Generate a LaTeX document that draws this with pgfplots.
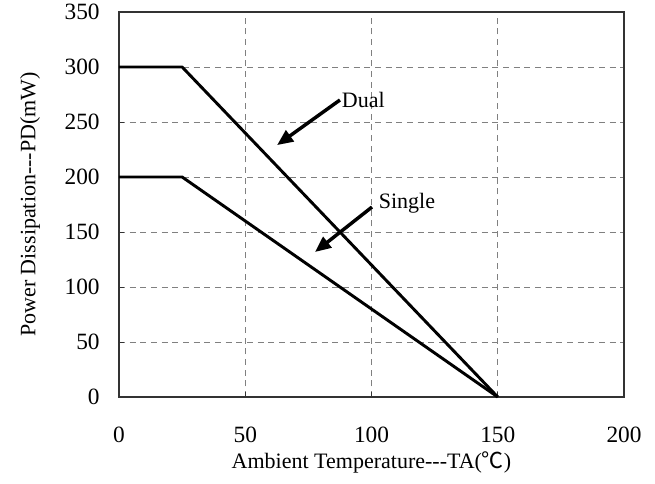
\documentclass[border=0pt]{standalone}
\usepackage{fontspec}
\setmainfont{Liberation Serif}
\newfontfamily\cjk{Noto Sans CJK TC}
\usepackage{pgfplots}
\pgfplotsset{compat=1.18}
\usetikzlibrary{arrows.meta}

\begin{document}
\begin{tikzpicture}
\useasboundingbox (-89.25pt,-65.25pt) rectangle (402pt,297.75pt);
\begin{axis}[
    scale only axis,
    width=378.75pt, height=288.75pt,
    xmin=0, xmax=200, ymin=0, ymax=350,
    xtick={0,50,...,200}, ytick={0,50,...,350},
    tick pos=left, tick align=inside,
    major tick length=4pt,
    grid=major,
    major grid style={gray, dash pattern=on 4.5pt off 3.5pt, line width=0.6pt},
    axis line style={black!80, line width=0.8pt},
    tick style={black!80, line width=0.6pt},
    /pgf/number format/assume math mode=true,
    ticklabel style={font=\fontsize{17.5}{19}\selectfont},
    xticklabel style={yshift=-19pt},
    yticklabel style={xshift=-11pt},
    label style={font=\fontsize{16.5}{18}\selectfont},
    xlabel={Ambient Temperature-{}-{}-TA({\cjk ℃})},
    ylabel={Power Dissipation-{}-{}-PD(mW)},
    xlabel style={at={(axis description cs:0.5,-0.171)}, anchor=center},
    ylabel style={at={(axis description cs:-0.176,0.5)}, anchor=center, rotate=0},
    clip=false,
]
\addplot[black, line width=2.2pt, line join=round] coordinates {(0,300) (25,300) (150,0)};
\addplot[black, line width=2.2pt, line join=round] coordinates {(0,200) (25,200) (150,0)};
\addplot[black, line width=2.6pt, -{Triangle[length=12pt, width=10pt]}] coordinates {(87.5,270) (62.6,229)};
\addplot[black, line width=2.6pt, -{Triangle[length=12pt, width=10pt]}] coordinates {(100.2,172.7) (77.6,131.8)};
\node[anchor=base west, font=\fontsize{16.5}{18}\selectfont, inner sep=0pt] at (axis cs:88.2,263.6) {Dual};
\node[anchor=base west, font=\fontsize{16.5}{18}\selectfont, inner sep=0pt] at (axis cs:102.8,171) {Single};
\end{axis}
\end{tikzpicture}
\end{document}
